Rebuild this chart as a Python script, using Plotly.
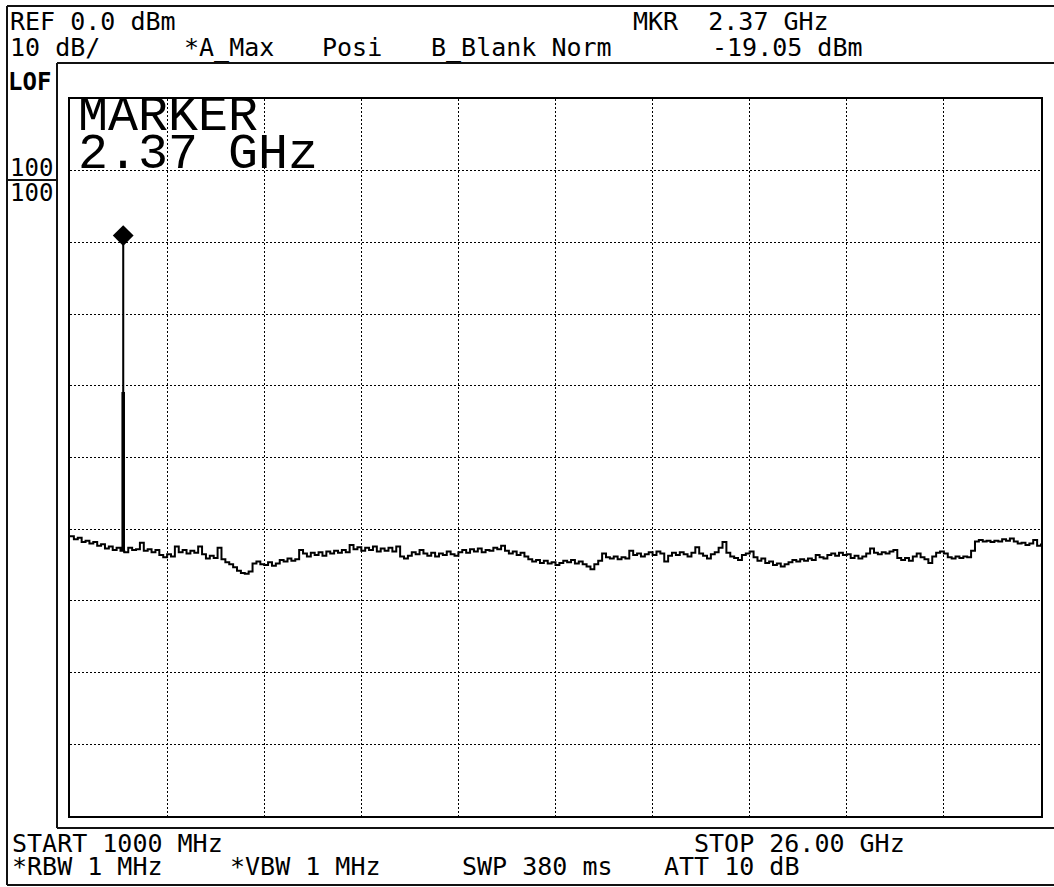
import numpy as np
import plotly.graph_objects as go

# ---------------- data ----------------
start_ghz = 1.0
stop_ghz = 26.0
ref_level_dbm = 0.0
db_per_div = 10
n_divs_x = 10
n_divs_y = 10

marker_freq_ghz = 2.37
marker_level_dbm = -19.05
spike_shoulder_dbm = -41.0
spike_foot_dbm = -63.1

# noise floor, one value every 0.1 GHz from 1.0 to 26.0 GHz
noise_dbm = [
    -61.0, -61.4, -61.2, -61.8, -61.6, -62.0, -61.8, -62.3, -62.1, -62.7,   # 1.x
    -62.4, -62.9, -62.6, -63.0, -63.2, -62.6, -62.9, -62.8, -61.9, -63.0,   # 2.x
    -62.8, -63.2, -62.9, -63.6, -63.9, -63.5, -63.8, -62.4, -63.2, -62.9,   # 3.x
    -63.4, -63.0, -63.3, -62.4, -63.5, -64.1, -63.7, -64.0, -62.6, -64.2,   # 4.x
    -64.6, -64.9, -65.3, -65.8, -66.1, -66.2, -65.9, -64.8, -64.5, -64.9,   # 5.x
    -65.0, -64.6, -65.1, -64.8, -64.3, -64.5, -64.1, -64.4, -64.2, -62.9,   # 6.x
    -63.4, -63.8, -63.3, -63.6, -63.2, -63.7, -63.1, -63.4, -63.0, -63.3,   # 7.x
    -62.9, -63.2, -62.2, -62.8, -62.5, -63.0, -62.6, -62.9, -62.4, -63.1,   # 8.x
    -62.7, -63.0, -62.6, -63.1, -62.4, -63.8, -64.1, -63.7, -63.2, -63.5,   # 9.x
    -62.9, -63.4, -63.7, -63.3, -63.8, -63.4, -63.6, -63.1, -63.5, -63.7,   # 10.x
    -63.2, -62.9, -63.3, -62.8, -63.1, -62.7, -63.2, -62.9, -63.0, -62.6,   # 11.x
    -62.8, -62.3, -63.0, -63.4, -63.1, -63.6, -63.3, -63.8, -64.2, -64.5,   # 12.x
    -64.3, -64.7, -64.4, -64.8, -64.6, -65.0, -64.7, -64.4, -64.6, -64.3,   # 13.x
    -64.8, -64.5, -64.9, -65.2, -65.6, -64.9, -64.4, -63.4, -63.9, -64.1,   # 14.x
    -63.8, -64.2, -63.9, -64.1, -63.0, -63.6, -63.4, -63.8, -63.5, -63.2,   # 15.x
    -63.6, -63.1, -63.4, -64.5, -63.7, -63.3, -63.6, -63.2, -63.5, -63.8,   # 16.x
    -63.3, -62.5, -63.4, -63.7, -64.1, -63.5, -63.2, -62.6, -61.8, -63.3,   # 17.x
    -63.8, -64.0, -64.3, -63.6, -63.4, -63.1, -63.9, -64.4, -64.1, -64.7,   # 18.x
    -64.5, -65.0, -64.8, -65.2, -64.9, -64.6, -64.3, -64.5, -64.2, -64.4,   # 19.x
    -64.1, -64.3, -63.6, -63.9, -64.1, -63.6, -63.4, -63.7, -63.3, -63.6,   # 20.x
    -63.5, -64.0, -63.7, -64.1, -63.8, -63.4, -62.7, -63.3, -63.5, -63.2,   # 21.x
    -63.4, -63.1, -62.9, -64.0, -64.3, -64.0, -64.4, -63.8, -63.4, -63.9,   # 22.x
    -64.2, -64.7, -63.8, -63.3, -63.1, -63.4, -63.9, -64.1, -63.8, -64.0,   # 23.x
    -63.8, -63.9, -63.0, -61.7, -61.5, -61.7, -61.6, -61.8, -61.6, -61.7,   # 24.x
    -61.4, -61.6, -61.3, -61.7, -62.0, -61.9, -62.2, -62.0, -61.5, -62.3,   # 25.x
    -62.0,                                                                  # 26.0
]

header_row1 = [("REF 0.0 dBm", 8), ("MKR  2.37 GHz", 631)]
header_row2 = [("10 dB/", 8), ("*A_Max", 182), ("Posi", 320),
               ("B_Blank Norm", 429), ("-19.05 dBm", 710)]
footer_row1 = [("START 1000 MHz", 10), ("STOP 26.00 GHz", 692)]
footer_row2 = [("*RBW 1 MHz", 10), ("*VBW 1 MHz", 228),
               ("SWP 380 ms", 460), ("ATT 10 dB", 662)]
marker_text = ["MARKER", "2.37 GHz"]

# ---------------- build trace ----------------
sweep = np.round(np.linspace(start_ghz, stop_ghz, len(noise_dbm)), 3)
spike_f = [marker_freq_ghz - 0.02, marker_freq_ghz, marker_freq_ghz + 0.001, marker_freq_ghz + 0.02]
spike_l = [spike_shoulder_dbm, marker_level_dbm, spike_shoulder_dbm, spike_foot_dbm]
freqs = list(sweep) + spike_f
levels = list(noise_dbm) + spike_l
order = np.argsort(freqs, kind="stable")
freqs = [freqs[i] for i in order]
levels = [levels[i] for i in order]

# ---------------- layout geometry (pixels) ----------------
W, H = 1054, 887
PL, PR, PT, PB = 70, 1041, 99, 816


def px(x):
    return (x - PL) / (PR - PL)


def py(y):
    return (PB - y) / (PB - PT)


fig = go.Figure()
fig.add_trace(go.Scatter(
    x=freqs, y=levels, mode="lines", line=dict(color="black", width=2, shape="hv"),
    hoverinfo="skip", showlegend=False))
fig.add_trace(go.Scatter(
    x=[marker_freq_ghz], y=[marker_level_dbm], mode="markers",
    marker=dict(symbol="diamond", size=16, color="black"),
    hoverinfo="skip", showlegend=False))

axis_common = dict(showticklabels=False, ticks="", zeroline=False,
                   showgrid=True, gridcolor="black", gridwidth=1, griddash="2px,2px",
                   showline=True, linecolor="black", linewidth=2, mirror=True,
                   fixedrange=True)
fig.update_xaxes(range=[start_ghz, stop_ghz],
                 dtick=(stop_ghz - start_ghz) / n_divs_x, tick0=start_ghz, **axis_common)
fig.update_yaxes(range=[ref_level_dbm - db_per_div * n_divs_y, ref_level_dbm],
                 dtick=db_per_div, tick0=ref_level_dbm, **axis_common)

LW = 2
LC = "#111111"
frame = [
    (7, 6, W, 6), (7, 6, 7, 885), (7, 885, W, 885),      # outer frame
    (57, 63, W, 63), (57, 63, 57, 828), (57, 828, W, 828),  # inner frame
    (7, 180, 57, 180),                                    # underline of 100
]
shapes = []
for x0, y0, x1, y1 in frame:
    shapes.append(dict(type="line", xref="paper", yref="paper",
                       x0=px(x0), y0=py(y0), x1=px(x1), y1=py(y1),
                       line=dict(color=LC, width=LW), layer="below"))

MONO = "DejaVu Sans Mono"
ann = []


def add_text(t, x, y, size=25, family=MONO, color="black"):
    ann.append(dict(text=t, x=px(x), y=py(y), xref="paper", yref="paper",
                    xanchor="left", yanchor="middle", showarrow=False,
                    font=dict(family=family, size=size, color=color)))


for t, x in header_row1:
    add_text(t, x, 21)
for t, x in header_row2:
    add_text(t, x, 47)
for t, x in footer_row1:
    add_text(t, x, 843)
for t, x in footer_row2:
    add_text(t, x, 867)
add_text("<b>LOF</b>", 6, 82, size=24)
add_text("100", 8, 168, size=24)
add_text("100", 8, 193, size=24)
add_text(marker_text[0], 76, 116, size=50, family="Liberation Mono")
add_text(marker_text[1], 76, 154, size=50, family="Liberation Mono")

fig.update_layout(
    width=W, height=H, autosize=False,
    margin=dict(l=PL, r=W - PR, t=PT, b=H - PB, pad=0),
    paper_bgcolor="white", plot_bgcolor="white",
    shapes=shapes, annotations=ann, showlegend=False, hovermode=False,
)

fig.write_html("out.html", config={"displayModeBar": False},
               post_script="document.body.style.margin='0px';document.body.style.overflow='hidden';")
